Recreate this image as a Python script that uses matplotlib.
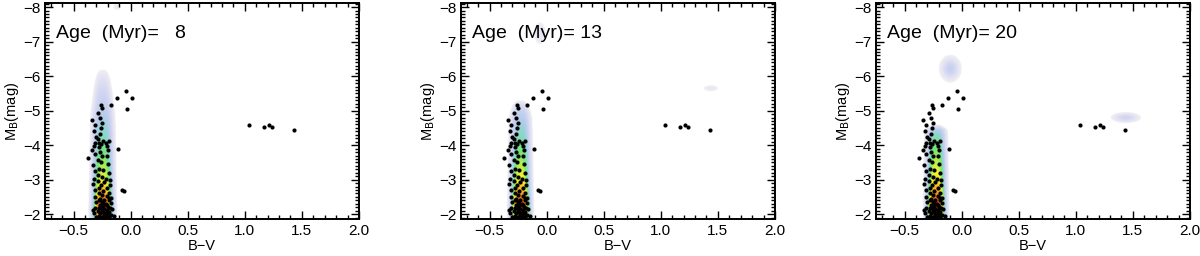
import numpy as np
import matplotlib
matplotlib.use('Agg')
import matplotlib.pyplot as plt
from matplotlib.colors import LinearSegmentedColormap
from matplotlib.ticker import MultipleLocator, FuncFormatter

plt.rcParams['font.family'] = ['Liberation Sans', 'DejaVu Sans']

# observed stars (B-V, M_B), same in every panel
bv = [-0.04, 0.01, -0.12, -0.03, -0.17, -0.26, -0.25,
      -0.29, -0.34, -0.27, -0.25, -0.31, -0.26, -0.32, -0.27, -0.30, -0.29,
      -0.24, -0.19, -0.28, -0.31, -0.22, -0.26, -0.32, -0.21,
      -0.28, -0.11, -0.34, -0.20, -0.27, -0.31, -0.25, -0.37, -0.21, -0.29,
      -0.33, -0.26, -0.20, -0.28, -0.24, -0.31, -0.19, -0.29, -0.25, -0.32,
      -0.22, -0.18,
      -0.29, -0.23, -0.33, -0.26, -0.18, -0.28, -0.21, -0.08, -0.06, -0.31,
      -0.24, -0.28, -0.19, -0.25, -0.21, -0.31, -0.17,
      -0.27, -0.23, -0.19, -0.25, -0.30, -0.17, -0.22, -0.27, -0.24, -0.20,
      -0.31, -0.28, -0.23, -0.16, -0.25, -0.21, -0.29, -0.19, -0.24, -0.22,
      -0.27, -0.32, -0.20, -0.23, -0.17, -0.28, -0.21, -0.25, -0.30, -0.19,
      -0.23, -0.15, -0.33, -0.18, -0.26, -0.21, -0.24, -0.28, -0.19,
      1.04, 1.17, 1.21, 1.24, 1.43]
mb = [-5.57, -5.38, -5.36, -5.06, -5.16, -5.15, -5.08,
      -4.93, -4.73, -4.79, -4.64, -4.57, -4.50, -4.40, -4.33, -4.25, -4.18,
      -4.12, -4.13, -4.07, -4.05, -4.05, -4.02, -3.98, -3.98,
      -3.95, -3.90, -3.87, -3.85, -3.80, -3.75, -3.70, -3.63, -3.68, -3.58,
      -3.43, -3.50, -3.45, -3.30, -3.27, -3.25, -3.20, -3.13, -3.08, -3.03,
      -3.03, -3.00,
      -2.95, -2.92, -2.88, -2.85, -2.85, -2.76, -2.75, -2.70, -2.68, -2.70,
      -2.66, -2.60, -2.60, -2.55, -2.52, -2.50, -2.48,
      -2.45, -2.42, -2.40, -2.36, -2.34, -2.32, -2.30, -2.27, -2.24, -2.21,
      -2.19, -2.17, -2.16, -2.14, -2.12, -2.11, -2.09, -2.07, -2.06, -2.04,
      -2.02, -2.02, -2.01, -1.99, -1.97, -1.96, -1.94, -1.93, -1.92, -1.91,
      -1.90, -1.94, -2.12, -2.18, -2.20, -2.26, -2.32, -2.40, -2.46,
      -4.57, -4.53, -4.57, -4.52, -4.45]

ages = [8, 13, 20]
age_labels = ['Age  (Myr)=   8', 'Age  (Myr)= 13', 'Age  (Myr)= 20']

# model density: main-sequence ridge nodes (M_B, amplitude) per panel
ridge_mb = [
    [-1.80, -2.2, -2.6, -3.0, -3.5, -4.0, -4.5, -5.0, -5.5, -5.9, -6.2],
    [-1.80, -2.2, -2.6, -3.0, -3.5, -4.0, -4.5, -4.9, -5.15, -5.3],
    [-1.80, -2.2, -2.6, -3.0, -3.5, -4.0, -4.3, -4.45, -4.6],
]
ridge_amp = [
    [0.90, 1.00, 0.80, 0.66, 0.56, 0.47, 0.38, 0.28, 0.20, 0.12, 0.03],
    [0.90, 1.00, 0.82, 0.68, 0.58, 0.48, 0.38, 0.27, 0.16, 0.03],
    [0.92, 1.00, 0.84, 0.70, 0.60, 0.50, 0.42, 0.30, 0.03],
]
ridge_bv = [-0.245, -0.23, -0.225]
ridge_w = [0.085, 0.08, 0.078]
# extra blobs (B-V, M_B, sigma_bv, sigma_mb, amplitude)
blobs = [
    [(-0.12, -8.02, 0.03, 0.08, 0.06)],
    [(-0.06, -7.25, 0.035, 0.22, 0.09), (1.44, -5.65, 0.05, 0.07, 0.07)],
    [(-0.10, -6.22, 0.05, 0.2, 0.25), (1.44, -4.80, 0.07, 0.085, 0.2)],
]

cmap = LinearSegmentedColormap.from_list('dens', [
    (0.00, (1, 1, 1, 0)),
    (0.04, (0.93, 0.93, 0.95, 1)),
    (0.16, (0.85, 0.85, 0.95, 1)),
    (0.30, (0.72, 0.80, 0.93, 1)),
    (0.40, (0.55, 0.84, 0.82, 1)),
    (0.52, (0.45, 0.90, 0.45, 1)),
    (0.66, (0.95, 0.95, 0.20, 1)),
    (0.82, (0.98, 0.62, 0.12, 1)),
    (1.00, (0.90, 0.15, 0.08, 1)),
])

xlim = (-0.75, 2.0)
ylim = (-1.86, -8.12)
gx = np.linspace(xlim[0], xlim[1], 600)
gy = np.linspace(ylim[1], ylim[0], 400)
X, Y = np.meshgrid(gx, gy)

fig = plt.figure(figsize=(12, 2.56), dpi=100)
lefts = [45, 461, 876]
for i, age in enumerate(ages):
    ax = fig.add_axes([lefts[i] / 1200, 37 / 256, 314 / 1200, 216 / 256])
    amp = np.interp(Y, ridge_mb[i][::-1], ridge_amp[i][::-1], left=0, right=0)
    w = ridge_w[i] * (0.55 + 0.45 * np.clip(amp / 0.3, 0, 1))
    dens = amp * np.exp(-np.abs((X - ridge_bv[i]) / w) ** 3)
    for (bx, by, sx, sy, a) in blobs[i]:
        dens += a * np.exp(-0.5 * ((X - bx) / sx) ** 2 - 0.5 * ((Y - by) / sy) ** 2)
    dens = np.where(dens < 0.03, 0, dens)
    ax.imshow(dens, extent=[xlim[0], xlim[1], ylim[1], ylim[0]], origin='lower',
              cmap=cmap, vmin=0, vmax=1, aspect='auto', interpolation='bilinear')
    ax.scatter(bv, mb, s=9, c='black', zorder=3, linewidths=0)
    ax.set_xlim(*xlim)
    ax.set_ylim(*ylim)
    ax.xaxis.set_major_locator(MultipleLocator(0.5))
    ax.xaxis.set_minor_locator(MultipleLocator(0.1))
    ax.yaxis.set_major_locator(MultipleLocator(1))
    ax.yaxis.set_minor_locator(MultipleLocator(0.1))
    ax.xaxis.set_major_formatter(FuncFormatter(lambda v, p: ('%.1f' % v).replace('-', '\u2212')))
    ax.tick_params(which='both', direction='in', top=True, right=True, labelsize=11, width=1)
    ax.tick_params(which='major', length=6)
    ax.tick_params(which='minor', length=3)
    for s in ax.spines.values():
        s.set_linewidth(1.4)
    ax.set_xlabel('B\u2212V', fontsize=10.5, labelpad=1)
    ax.set_ylabel(r'M$_{\rm B}$(mag)', fontsize=10.5, labelpad=1)
    ax.text(0.035, 0.86, age_labels[i], transform=ax.transAxes, fontsize=14,
            va='center', ha='left')

plt.savefig('out.png', dpi=100)
